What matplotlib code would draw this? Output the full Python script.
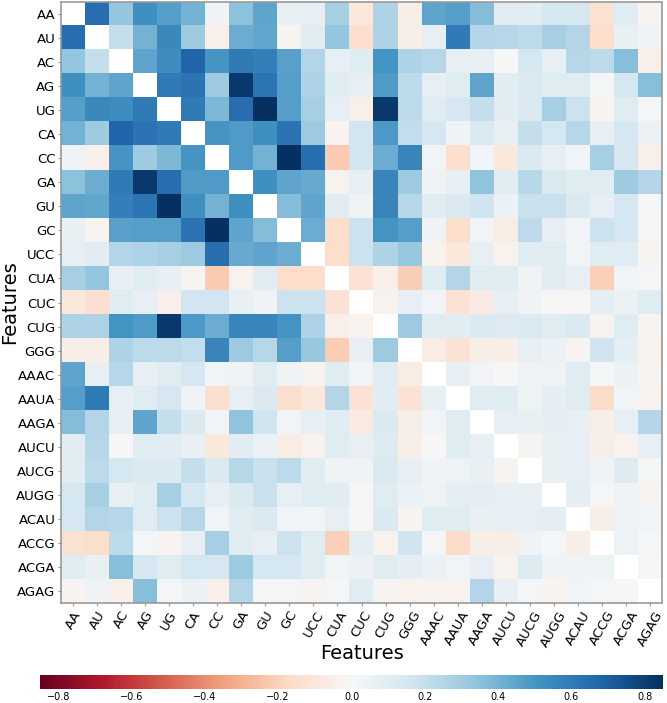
import numpy as np
import matplotlib
matplotlib.use("Agg")
import matplotlib.pyplot as plt

labels = ["AA", "AU", "AC", "AG", "UG", "CA", "CC", "GA", "GU", "GC", "UCC",
          "CUA", "CUC", "CUG", "GGG", "AAAC", "AAUA", "AAGA", "AUCU", "AUCG",
          "AUGG", "ACAU", "ACCG", "ACGA", "AGAG"]

# lower triangle of the correlation matrix, row i holds columns 0..i-1
lower = [
    [],
    [0.65],
    [0.33, 0.20],
    [0.52, 0.40, 0.45],
    [0.47, 0.55, 0.53, 0.60],
    [0.40, 0.30, 0.68, 0.63, 0.60],
    [0.03, -0.04, 0.50, 0.31, 0.38, 0.50],
    [0.35, 0.42, 0.60, 0.82, 0.65, 0.48, 0.48],
    [0.45, 0.44, 0.58, 0.62, 0.85, 0.52, 0.40, 0.52],
    [0.06, -0.02, 0.46, 0.47, 0.47, 0.63, 0.85, 0.45, 0.37],
    [0.07, 0.09, 0.25, 0.26, 0.28, 0.31, 0.64, 0.43, 0.45, 0.42],
    [0.28, 0.33, 0.07, 0.10, 0.07, -0.02, -0.22, -0.03, 0.09, -0.15, -0.15],
    [-0.09, -0.14, 0.10, 0.07, -0.04, 0.16, 0.16, 0.07, 0.03, 0.18, 0.18, -0.12],
    [0.26, 0.26, 0.51, 0.48, 0.82, 0.49, 0.42, 0.56, 0.56, 0.51, 0.26, -0.04, -0.03],
    [-0.05, -0.05, 0.26, 0.22, 0.22, 0.21, 0.56, 0.31, 0.24, 0.47, 0.32, -0.21, 0.07, 0.31],
    [0.45, 0.07, 0.24, 0.07, 0.10, 0.14, 0.02, 0.03, 0.10, 0.03, -0.03, 0.10, 0.02, 0.10, -0.06],
    [0.47, 0.60, 0.07, 0.10, 0.14, 0.03, -0.14, 0.07, 0.12, -0.15, -0.09, 0.25, -0.12, 0.09,
     -0.12, 0.07],
    [0.37, 0.25, 0.07, 0.45, 0.20, 0.12, 0.02, 0.34, 0.17, 0.02, 0.07, 0.10, -0.07, 0.12,
     -0.05, 0.02, 0.10],
    [0.09, 0.24, 0.00, 0.09, 0.09, 0.06, -0.09, 0.09, 0.05, -0.06, -0.03, 0.10, 0.07, 0.11,
     -0.05, 0.00, 0.10, 0.07],
    [0.09, 0.22, 0.15, 0.12, 0.12, 0.20, 0.12, 0.24, 0.19, 0.22, 0.09, 0.03, 0.03, 0.12,
     0.07, 0.03, 0.04, 0.06, -0.02],
    [0.15, 0.28, 0.07, 0.10, 0.28, 0.15, 0.07, 0.12, 0.19, 0.07, 0.10, 0.09, -0.01, 0.10,
     0.05, 0.04, 0.08, 0.08, 0.06, 0.06],
    [0.14, 0.25, 0.24, 0.10, 0.18, 0.24, 0.02, 0.10, 0.12, 0.02, 0.02, 0.07, -0.01, 0.12,
     -0.02, 0.10, 0.10, 0.06, 0.07, 0.07, 0.08],
    [-0.13, -0.15, 0.22, 0.01, -0.02, 0.07, 0.28, 0.10, 0.07, 0.18, 0.10, -0.20, 0.08, -0.03,
     0.17, 0.01, -0.16, -0.05, -0.05, 0.03, 0.01, -0.05],
    [0.10, 0.06, 0.36, 0.15, 0.10, 0.15, 0.14, 0.30, 0.15, 0.14, 0.10, 0.02, 0.05, 0.10,
     0.08, 0.05, 0.02, 0.07, -0.03, 0.11, 0.03, 0.03, 0.04],
    [-0.02, 0.03, -0.04, 0.36, 0.01, 0.05, -0.04, 0.25, 0.01, 0.01, -0.02, 0.01, 0.10, -0.02,
     -0.03, -0.02, -0.03, 0.25, 0.07, 0.01, -0.02, 0.02, 0.01, 0.00],
]

n = len(labels)
corr = np.full((n, n), np.nan)
for i, row in enumerate(lower):
    for j, v in enumerate(row):
        corr[i, j] = v
        corr[j, i] = v

fig = plt.figure(figsize=(6.67, 7.03), dpi=100)
ax = fig.add_axes([0.0915, 0.1422, 0.901, 0.855])
cax = fig.add_axes([0.060, 0.020, 0.934, 0.020])

im = ax.imshow(np.ma.masked_invalid(corr), cmap="RdBu", vmin=-0.85, vmax=0.85,
               aspect="auto", interpolation="nearest")
ax.set_facecolor("white")

ax.set_xticks(range(n))
ax.set_yticks(range(n))
ax.set_xticklabels(labels, rotation=60, ha="center", fontsize=9.5)
ax.set_yticklabels(labels, fontsize=9.5)
ax.tick_params(length=2.5, color="#999999", pad=1.5)
for s in ax.spines.values():
    s.set_color("#999999")
    s.set_linewidth(1.2)
ax.set_xlabel("Features", fontsize=14)
ax.set_ylabel("Features", fontsize=14)
ax.xaxis.set_label_coords(0.5, -0.068)
ax.yaxis.set_label_coords(-0.070, 0.5)

cb = fig.colorbar(im, cax=cax, orientation="horizontal")
cb.set_ticks([-0.8, -0.6, -0.4, -0.2, 0.0, 0.2, 0.4, 0.6, 0.8])
cb.ax.tick_params(labelsize=7, length=0, pad=2)
cb.outline.set_visible(False)

fig.savefig("out.png", dpi=100)
